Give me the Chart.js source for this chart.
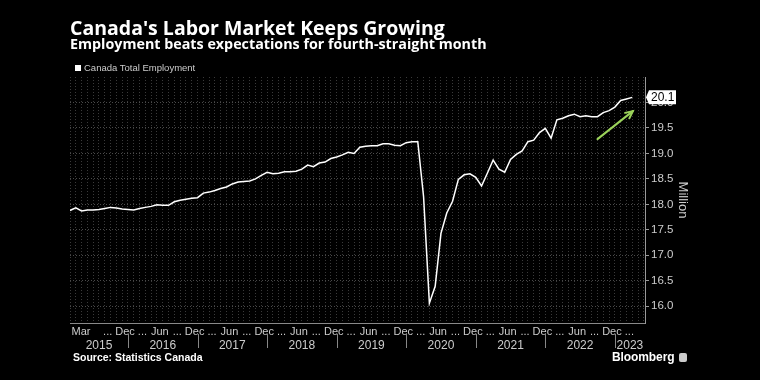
<!DOCTYPE html>
<html><head><meta charset="utf-8">
<script src="https://cdn.jsdelivr.net/npm/chart.js@4"></script>
<style>
html,body{margin:0;padding:0;background:#000;width:760px;height:380px;overflow:hidden;font-family:"Liberation Sans",Arial,sans-serif}
#wrap{position:relative;width:760px;height:380px}
canvas{position:absolute;left:0;top:0}
.t{position:absolute;color:#fff;white-space:nowrap}
#title{left:70px;top:17.5px;font-family:"Open Sans","Liberation Sans",sans-serif;font-size:19.5px;line-height:19.5px;font-weight:bold}
#sub{left:70px;top:37px;font-family:"Open Sans","Liberation Sans",sans-serif;font-size:14.3px;line-height:14.3px;font-weight:bold}
#leg{left:75px;top:62.5px;font-size:9.5px;line-height:10px;color:#ccc}
#leg i{display:inline-block;width:6px;height:6px;background:#fff;margin-right:3px;position:relative;top:0px}
#src{left:73px;top:352px;font-size:10.5px;line-height:10.5px;font-weight:bold}
#bb{left:612px;top:351px;font-size:12px;line-height:12px;font-weight:bold;letter-spacing:-0.1px}
#ic{position:absolute;left:679px;top:353px;width:8px;height:9px;background:#ccc;border-radius:2px}
</style></head>
<body><div id="wrap">
<canvas id="c" width="760" height="380"></canvas>
<div class="t" id="title">Canada's Labor Market Keeps Growing</div>
<div class="t" id="sub">Employment beats expectations for fourth-straight month</div>
<div class="t" id="leg"><i></i>Canada Total Employment</div>
<div class="t" id="src">Source: Statistics Canada</div>
<div class="t" id="bb">Bloomberg</div>
<div id="ic"></div>
</div>
<script>
// Canada total employment, millions (monthly, Feb 2015 - Mar 2023)
const emp2015 = [17.88,17.93,17.87,17.89,17.89,17.90,17.92,17.94,17.93,17.91,17.90]; // Feb-Dec
const emp2016 = [17.89,17.92,17.94,17.96,17.99,17.98,17.98,18.05,18.08,18.10,18.12,18.13];
const emp2017 = [18.22,18.24,18.27,18.31,18.34,18.40,18.44,18.45,18.46,18.50,18.57,18.63];
const emp2018 = [18.60,18.61,18.64,18.64,18.65,18.69,18.77,18.74,18.81,18.83,18.90,18.93];
const emp2019 = [18.97,19.02,19.00,19.12,19.14,19.15,19.15,19.19,19.19,19.16,19.15,19.21];
const emp2020 = [19.23,19.23,18.15,16.06,16.39,17.43,17.83,18.06,18.49,18.58,18.60,18.53];
const emp2021 = [18.36,18.61,18.87,18.69,18.63,18.88,18.98,19.05,19.23,19.26,19.41,19.49];
const emp2022 = [19.30,19.66,19.69,19.74,19.77,19.72,19.74,19.72,19.72,19.80,19.84,19.91];
const emp2023 = [20.04,20.07,20.10]; // Jan-Mar

const yearLabels = ['2015','2016','2017','2018','2019','2020','2021','2022','2023'];
const quarterLabels = ['...','Jun','...','Dec']; // Mar, Jun, Sep, Dec
const firstMonthLabel = 'Mar';
const yTicks = [16.0,16.5,17.0,17.5,18.0,18.5,19.0,19.5,20.0];
const seriesName = 'Canada Total Employment';

const series = [emp2015,emp2016,emp2017,emp2018,emp2019,emp2020,emp2021,emp2022,emp2023].flat();
const points = series.map((v,i)=>({x:i,y:v}));
const xMax = 99.2;

// month label ticks (positions in month units from Mar 1 2015)
const labelTicks = [{value:1.9,label:firstMonthLabel}];
for (let k=6,q=2;k<=96;k+=3,q++) labelTicks.push({value:k+0.5,label:quarterLabels[q%4]});
const labelMap = new Map(labelTicks.map(t=>[t.value,t.label]));
// year boundaries (Jan 1 positions)
const yearBounds = [0];
for (let b=10;b<=94;b+=12) yearBounds.push(b);
yearBounds.push(xMax);
const yearCenters = yearLabels.map((_,i)=>(yearBounds[i]+yearBounds[i+1])/2);

const overlay = {
  id:'overlay',
  afterDraw(chart){
    const {ctx, chartArea, scales:{x,y,x2}} = chart;
    ctx.save();
    // year separators
    ctx.strokeStyle='#888'; ctx.lineWidth=1;
    for (let i=1;i<yearBounds.length-1;i++){
      const px = Math.round(x.getPixelForValue(yearBounds[i]))+0.5;
      ctx.beginPath(); ctx.moveTo(px,x2.top-3); ctx.lineTo(px,x2.top+11); ctx.stroke();
    }
    // green arrow
    const ax0=x.getPixelForValue(91), ay0=y.getPixelForValue(19.28);
    const ax1=x.getPixelForValue(97.1), ay1=y.getPixelForValue(19.83);
    ctx.strokeStyle='#9bd35a'; ctx.lineWidth=2; ctx.lineCap='round';
    ctx.beginPath(); ctx.moveTo(ax0,ay0); ctx.lineTo(ax1,ay1); ctx.stroke();
    const ang=Math.atan2(ay1-ay0,ax1-ax0), hl=8;
    ctx.beginPath();
    ctx.moveTo(ax1-hl*Math.cos(ang-0.45), ay1-hl*Math.sin(ang-0.45));
    ctx.lineTo(ax1,ay1);
    ctx.lineTo(ax1-hl*Math.cos(ang+0.45), ay1-hl*Math.sin(ang+0.45));
    ctx.stroke();
    // last value label
    const last = series[series.length-1];
    const py = y.getPixelForValue(last);
    const bx = chartArea.right+1;
    ctx.fillStyle='#fff';
    ctx.beginPath();
    ctx.moveTo(bx,py); ctx.lineTo(bx+3,py-7); ctx.lineTo(bx+30,py-7); ctx.lineTo(bx+30,py+7); ctx.lineTo(bx+3,py+7); ctx.closePath(); ctx.fill();
    ctx.fillStyle='#000'; ctx.font='12px "Liberation Sans", Arial, sans-serif';
    ctx.textBaseline='middle'; ctx.textAlign='left';
    ctx.fillText(last.toFixed(1), bx+5, py+0.5);
    ctx.restore();
  }
};

new Chart(document.getElementById('c'), {
  type:'line',
  data:{datasets:[{label:seriesName,data:points,borderColor:'#ffffff',borderWidth:1.5,pointRadius:0,tension:0,xAxisID:'x',yAxisID:'y'}]},
  options:{
    responsive:false, animation:false, devicePixelRatio:1,
    layout:{padding:{left:70,top:77,right:0,bottom:25}},
    plugins:{legend:{display:false},tooltip:{enabled:false}},
    scales:{
      x:{type:'linear',position:'bottom',weight:0,min:0,max:xMax,
        afterBuildTicks:s=>{
          const t=[]; for(let i=0;i<=99;i++) t.push({value:i});
          labelTicks.forEach(l=>t.push({value:l.value}));
          t.sort((a,b)=>a.value-b.value);
          s.ticks=t;
        },
        afterFit:s=>{s.height=14;},
        ticks:{autoSkip:false,maxRotation:0,minRotation:0,color:'#ccc',font:{size:11,family:'"Liberation Sans", Arial, sans-serif'},padding:2,
          callback:v=>labelMap.has(v)?labelMap.get(v):''},
        grid:{color:c=>(c.tick&&Number.isInteger(c.tick.value))?'#3a3a3a':'rgba(0,0,0,0)',drawTicks:false,lineWidth:1},
        border:{display:true,color:'#8a8a8a',width:1,dash:[1,2]}
      },
      x2:{type:'linear',position:'bottom',weight:1,min:0,max:xMax,
        afterBuildTicks:s=>{s.ticks=yearCenters.map(v=>({value:v}));},
        afterFit:s=>{s.height=18;},
        ticks:{autoSkip:false,maxRotation:0,minRotation:0,color:'#ccc',font:{size:12,family:'"Liberation Sans", Arial, sans-serif'},padding:1,
          callback:(v,i)=>yearLabels[i]},
        grid:{display:false,drawTicks:false},border:{display:false}
      },
      y:{type:'linear',position:'right',min:15.67,max:20.5,
        afterBuildTicks:s=>{s.ticks=yTicks.map(v=>({value:v}));},
        afterFit:s=>{s.width=115;},
        ticks:{color:'#ccc',font:{size:11.5,family:'"Liberation Sans", Arial, sans-serif'},padding:2,callback:v=>v.toFixed(1)},
        grid:{color:'#4a4a4a',drawTicks:true,tickLength:4,tickColor:'#999',tickBorderDash:[],lineWidth:1},
        border:{display:true,color:'#999',width:1,dash:[1,2]},
        title:{display:true,text:'Million',color:'#ccc',font:{size:13,family:'"Liberation Sans", Arial, sans-serif'},padding:{top:70,bottom:0}}
      }
    }
  },
  plugins:[overlay]
});
</script>
</body></html>
